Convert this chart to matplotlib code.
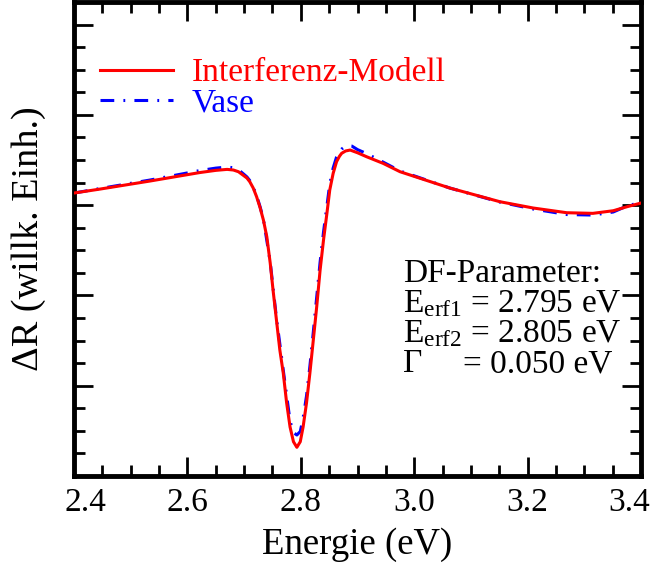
import matplotlib
matplotlib.use("Agg")
import matplotlib.pyplot as plt
import matplotlib.transforms as mtransforms
from matplotlib.ticker import MultipleLocator

plt.rcParams['font.family'] = ['Liberation Serif', 'DejaVu Serif']
plt.rcParams['mathtext.fontset'] = 'custom'
plt.rcParams['mathtext.rm'] = 'Liberation Serif'
plt.rcParams['mathtext.it'] = 'Liberation Serif:italic'

# Interferenz-Modell (red, solid)
e_model = [2.400, 2.446, 2.534, 2.622, 2.650, 2.670, 2.681, 2.690, 2.698, 2.705,
           2.710, 2.716, 2.722, 2.728, 2.734, 2.740,
           2.746, 2.751, 2.757, 2.763, 2.769, 2.775, 2.781, 2.787, 2.793, 2.799,
           2.804, 2.810, 2.816, 2.822, 2.828, 2.834, 2.840, 2.846, 2.851, 2.857,
           2.863, 2.868, 2.872, 2.879, 2.887, 2.900, 2.916, 2.945, 2.975, 3.063,
           3.151, 3.210, 3.269, 3.315, 3.351, 3.375, 3.398]
r_model = [3.134, 3.178, 3.267, 3.361, 3.385, 3.396, 3.389, 3.370, 3.333, 3.300,
           3.259, 3.190, 3.093, 2.975, 2.835, 2.650,
           2.359, 2.060, 1.728, 1.395, 1.141, 0.808, 0.543, 0.380, 0.318, 0.380,
           0.543, 0.808, 1.141, 1.506, 1.875, 2.281, 2.614, 2.909, 3.167, 3.352,
           3.481, 3.540, 3.574, 3.600, 3.610, 3.580, 3.536, 3.463, 3.370, 3.189,
           3.038, 2.968, 2.916, 2.909, 2.938, 2.982, 3.020]

# Vase (blue, dash-dot)
e_vase = [2.400, 2.446, 2.534, 2.622, 2.650, 2.670, 2.681, 2.690, 2.698, 2.705,
          2.710, 2.716, 2.722, 2.728, 2.734, 2.746,
          2.757, 2.769, 2.781, 2.787, 2.793, 2.799, 2.804, 2.810, 2.816, 2.822,
          2.828, 2.834, 2.840, 2.846, 2.851, 2.857, 2.863, 2.868, 2.872, 2.877,
          2.882, 2.890, 2.900, 2.916, 2.945, 2.975, 3.063, 3.151, 3.210, 3.269,
          3.315, 3.351, 3.375, 3.398]
r_vase = [3.134, 3.184, 3.278, 3.383, 3.410, 3.422, 3.414, 3.392, 3.350, 3.312,
          3.272, 3.200, 3.106, 2.985, 2.846, 2.370,
          1.750, 1.174, 0.609, 0.482, 0.454, 0.493, 0.642, 0.886, 1.218, 1.595,
          1.982, 2.370, 2.702, 2.990, 3.234, 3.411, 3.533, 3.590, 3.621, 3.645,
          3.660, 3.654, 3.615, 3.571, 3.477, 3.378, 3.189, 3.034, 2.957, 2.896,
          2.890, 2.924, 2.990, 3.029]

params = ["DF-Parameter:",
          r"E$_{\rm erf1}$ = 2.795 eV",
          r"E$_{\rm erf2}$ = 2.805 eV"]
gamma_label = "Γ"
gamma_value = "= 0.050 eV"

fig = plt.figure(figsize=(6.51, 5.69), dpi=100)
ax = fig.add_axes([0.1137, 0.1634, 0.8710, 0.8325])

ax.plot(e_model, r_model, color='#ff0000', lw=2.2, label='Interferenz-Modell', zorder=3)
ax.plot(e_vase, r_vase, color='#0000ff', lw=2.2, linestyle=(0, (4.5, 3, 0.6, 3)),
        label='Vase', zorder=2)

ax.set_xlim(2.4, 3.4)
ax.set_ylim(0, 5.246)
ax.xaxis.set_minor_locator(MultipleLocator(0.05))
ax.yaxis.set_major_locator(MultipleLocator(1))
ax.yaxis.set_minor_locator(MultipleLocator(0.25))
ax.set_xticks([2.4, 2.6, 2.8, 3.0, 3.2, 3.4])
ax.set_xticklabels(['2.4', '2.6', '2.8', '3.0', '3.2', '3.4'])
ax.tick_params(which='both', direction='in', top=True, right=True, width=2,
               labelsize=24, pad=8, labelleft=False)
ax.tick_params(which='major', length=14)
ax.tick_params(which='minor', length=8)
for s in ax.spines.values():
    s.set_linewidth(3.5)

# edge labels pulled inward a little, as in the original
labels = ax.get_xticklabels()
labels[0].set_transform(labels[0].get_transform() +
                        mtransforms.ScaledTranslation(0.11, 0, fig.dpi_scale_trans))
labels[-1].set_transform(labels[-1].get_transform() +
                         mtransforms.ScaledTranslation(-0.12, 0, fig.dpi_scale_trans))

ax.set_xlabel('Energie (eV)', fontsize=26.5)
ax.set_ylabel('ΔR (willk. Einh.)', fontsize=27.5)
ax.xaxis.set_label_coords(0.5, -0.108)
ax.yaxis.set_label_coords(-0.05, 0.5)

leg = ax.legend(loc='upper left', bbox_to_anchor=(0.046, 0.883), frameon=False,
                fontsize=24, handlelength=2.2, handletextpad=0.55,
                labelspacing=0.0, borderpad=0, borderaxespad=0,
                labelcolor='linecolor')

for i, t in enumerate(params):
    ax.text(0.581, 0.428 - i * 0.064, t, transform=ax.transAxes, fontsize=24,
            ha='left', va='center')
ax.text(0.581, 0.428 - 3 * 0.064, gamma_label, transform=ax.transAxes, fontsize=24,
        ha='left', va='center')
ax.text(0.686, 0.428 - 3 * 0.064, gamma_value, transform=ax.transAxes, fontsize=24,
        ha='left', va='center')

fig.savefig('out.png', dpi=100)
